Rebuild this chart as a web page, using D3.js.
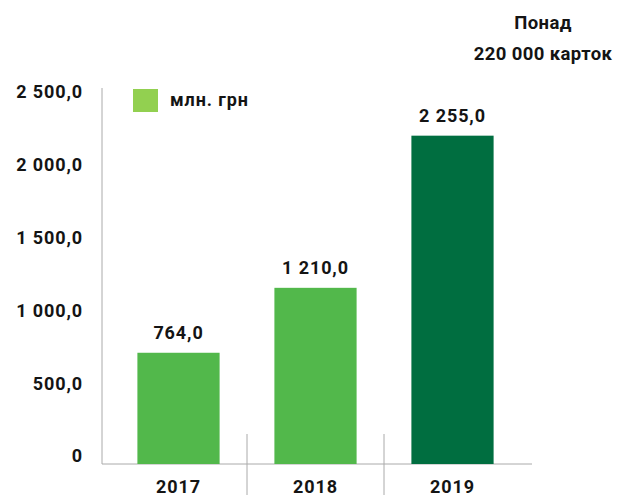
<!DOCTYPE html>
<html>
<head>
<meta charset="utf-8">
<script src="https://cdn.jsdelivr.net/npm/d3@7"></script>
<style>
  body { margin: 0; background: #fff; }
  text { font-family: Roboto, "Liberation Sans", sans-serif; font-weight: 700; fill: #141414; }
</style>
</head>
<body>
<div id="chart"></div>
<script>
const years = ['2017', '2018', '2019'];
const values = [764.0, 1210.0, 2255.0];
const barColors = ['#52b84b', '#52b84b', '#006e40'];
const yTicks = [0, 500, 1000, 1500, 2000, 2500];
const legendLabel = 'млн. грн';
const noteLines = ['Понад', '220 000 карток'];

const width = 617, height = 498;
const fmt = v => d3.format(',.1f')(v).replace(/,/g, ' ').replace('.', ',');

const svg = d3.select('#chart')
    .append('svg')
    .attr('width', width)
    .attr('height', height);

const x = d3.scaleBand()
    .domain(years)
    .range([110, 521])
    .paddingInner(0.4)
    .paddingOuter(0.2);

const y = d3.scaleLinear()
    .domain([0, 2500])
    .range([464, 100]);

// axis lines
svg.append('line')
    .attr('x1', 102).attr('x2', 102)
    .attr('y1', 88).attr('y2', 464)
    .attr('stroke', '#aaa').attr('stroke-width', 1);

svg.append('line')
    .attr('x1', 102).attr('x2', 532)
    .attr('y1', 464).attr('y2', 464)
    .attr('stroke', '#aaa').attr('stroke-width', 1);

// separators between categories
const step = x.step();
svg.selectAll('.sep')
    .data(years.slice(1))
    .enter().append('line')
    .attr('x1', d => x(d) - step * 0.4 / 2)
    .attr('x2', d => x(d) - step * 0.4 / 2)
    .attr('y1', 434).attr('y2', 495)
    .attr('stroke', '#aaa').attr('stroke-width', 1);

// y tick labels
svg.selectAll('.ytick')
    .data(yTicks)
    .enter().append('text')
    .attr('x', 83)
    .attr('y', d => y(d) - 8)
    .attr('dy', '0.35em')
    .attr('text-anchor', 'end')
    .attr('font-size', 18)
    .attr('letter-spacing', 0.9)
    .text(d => d === 0 ? '0' : fmt(d));

// bars
svg.selectAll('.bar')
    .data(values)
    .enter().append('rect')
    .attr('x', (d, i) => x(years[i]))
    .attr('y', d => y(d))
    .attr('width', x.bandwidth())
    .attr('height', d => y(0) - y(d))
    .attr('fill', (d, i) => barColors[i]);

// value labels
svg.selectAll('.val')
    .data(values)
    .enter().append('text')
    .attr('x', (d, i) => x(years[i]) + x.bandwidth() / 2)
    .attr('y', d => y(d) - 20)
    .attr('dy', '0.35em')
    .attr('text-anchor', 'middle')
    .attr('font-size', 18)
    .attr('letter-spacing', 0.9)
    .text(d => fmt(d));

// year labels
svg.selectAll('.year')
    .data(years)
    .enter().append('text')
    .attr('x', d => x(d) + x.bandwidth() / 2)
    .attr('y', 487)
    .attr('dy', '0.35em')
    .attr('text-anchor', 'middle')
    .attr('font-size', 18)
    .attr('letter-spacing', 0.9)
    .text(d => d);

// legend
svg.append('rect')
    .attr('x', 133).attr('y', 89)
    .attr('width', 25).attr('height', 23)
    .attr('fill', '#92d050');
svg.append('text')
    .attr('x', 170).attr('y', 100)
    .attr('dy', '0.35em')
    .attr('font-size', 18)
    .attr('letter-spacing', 0.9)
    .text(legendLabel);

// note top right
svg.selectAll('.note')
    .data(noteLines)
    .enter().append('text')
    .attr('x', 543)
    .attr('y', (d, i) => 23 + i * 31)
    .attr('dy', '0.35em')
    .attr('text-anchor', 'middle')
    .attr('font-size', 18.5)
    .attr('letter-spacing', 0.4)
    .text(d => d);
</script>
</body>
</html>
